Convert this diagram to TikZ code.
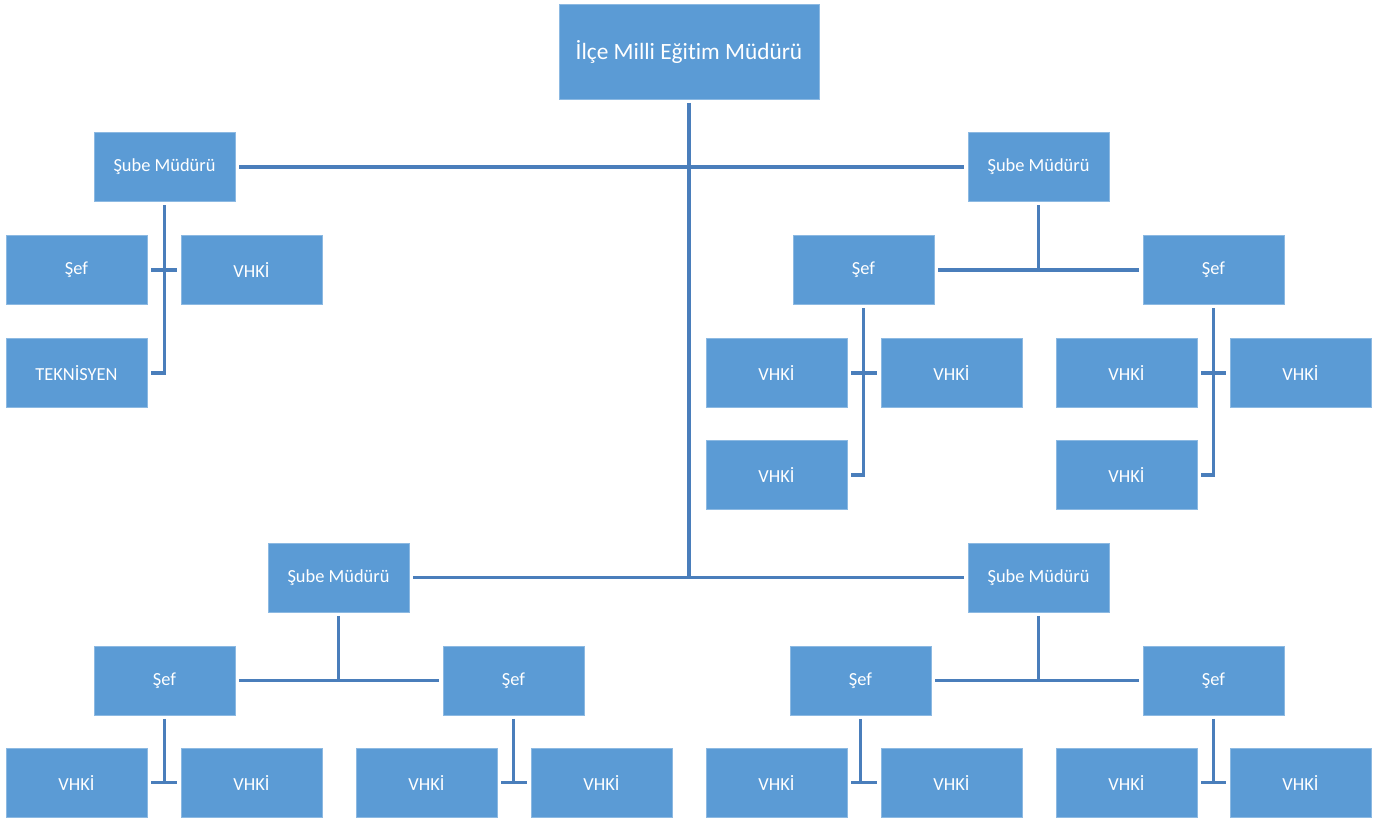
\documentclass[tikz,border=0pt]{standalone}
\usepackage{fontspec}
\setmainfont[Ligatures={NoCommon}]{Carlito}
\definecolor{boxblue}{HTML}{5B9BD5}
\definecolor{lineblue}{HTML}{4A7EBB}
\begin{document}
\begin{tikzpicture}[x=0.75pt,y=-0.75pt,
  box/.style={fill=boxblue,draw=boxblue!70!white,line width=0.4pt,text=white,font=\fontsize{13.8}{16}\selectfont,
    minimum width=105.75pt,minimum height=51.5pt,inner sep=0pt,outer sep=0pt},
  topbox/.style={box,minimum width=195pt,minimum height=71.25pt,font=\fontsize{17.5}{20}\selectfont},
  conn/.style={draw=lineblue,line width=2.3pt,shorten <=3pt,shorten >=3pt},
  trunk/.style={draw=lineblue,line width=2.3pt,shorten <=3pt}]
\useasboundingbox (0,0) rectangle (1383,820);
% nodes
\node[topbox] (top) at (689,51.5) {İlçe Milli Eğitim Müdürü};
\node[box] (ls) at (164.5,167) {Şube Müdürü};
\node[box] (rs) at (1038.5,167) {Şube Müdürü};
\node[box] (lsef) at (76.5,270) {Şef};
\node[box] (lvhki) at (251.5,270) {VHKİ};
\node[box] (ltek) at (76.5,373) {TEKNİSYEN};
\node[box] (rs1) at (863.5,270) {Şef};
\node[box] (rs2) at (1213.5,270) {Şef};
\node[box] (a1) at (776.5,373) {VHKİ};
\node[box] (a2) at (951.5,373) {VHKİ};
\node[box] (a3) at (776.5,475) {VHKİ};
\node[box] (b1) at (1126.5,373) {VHKİ};
\node[box] (b2) at (1300.5,373) {VHKİ};
\node[box] (b3) at (1126.5,475) {VHKİ};
\node[box] (lb) at (338.5,577.5) {Şube Müdürü};
\node[box] (rb) at (1038.5,577.5) {Şube Müdürü};
\node[box] (lb1) at (164.5,680.5) {Şef};
\node[box] (lb2) at (513.5,680.5) {Şef};
\node[box] (rb1) at (860.5,680.5) {Şef};
\node[box] (rb2) at (1213.5,680.5) {Şef};
\node[box] (c1) at (76.5,782.5) {VHKİ};
\node[box] (c2) at (251.5,782.5) {VHKİ};
\node[box] (d1) at (426.5,782.5) {VHKİ};
\node[box] (d2) at (601.5,782.5) {VHKİ};
\node[box] (e1) at (776.5,782.5) {VHKİ};
\node[box] (e2) at (951.5,782.5) {VHKİ};
\node[box] (f1) at (1126.5,782.5) {VHKİ};
\node[box] (f2) at (1300.5,782.5) {VHKİ};
% trunk
\path[trunk] (top.south) -- (top.south |- lb.east);
\path[conn] (ls.east) -- (rs.west);
\path[conn] (lb.east) -- (rb.west);
% top-left branch
\path[conn] (ls.south) |- (ltek.east);
\path[conn] (lsef.east) -- (lvhki.west);
% top-right branch
\path[trunk] (rs.south) -- (rs.south |- rs1.east);
\path[conn] (rs1.east) -- (rs2.west);
\path[conn] (rs1.south) |- (a3.east);
\path[conn] (a1.east) -- (a2.west);
\path[conn] (rs2.south) |- (b3.east);
\path[conn] (b1.east) -- (b2.west);
% bottom-left branch
\path[trunk] (lb.south) -- (lb.south |- lb1.east);
\path[conn] (lb1.east) -- (lb2.west);
\path[trunk] (lb1.south) -- (lb1.south |- c1.east);
\path[conn] (c1.east) -- (c2.west);
\path[trunk] (lb2.south) -- (lb2.south |- d1.east);
\path[conn] (d1.east) -- (d2.west);
% bottom-right branch
\path[trunk] (rb.south) -- (rb.south |- rb1.east);
\path[conn] (rb1.east) -- (rb2.west);
\path[trunk] (rb1.south) -- (rb1.south |- e1.east);
\path[conn] (e1.east) -- (e2.west);
\path[trunk] (rb2.south) -- (rb2.south |- f1.east);
\path[conn] (f1.east) -- (f2.west);
\end{tikzpicture}
\end{document}
